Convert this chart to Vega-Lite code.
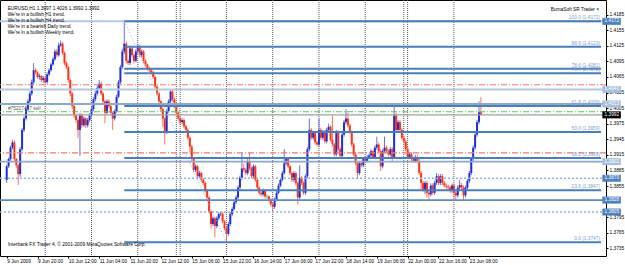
{
"$schema":"https://vega.github.io/schema/vega-lite/v6.json",
"width":606,"height":256,
"autosize":{"type":"none"},
"padding":{"left":0,"top":0,"right":19,"bottom":9},
"background":"#ffffff",
"config":{"view":{"stroke":"#000000","strokeWidth":1},"axis":{"labelFont":"Liberation Sans","labelFontSize":4.8,"labelColor":"#000000","tickColor":"#000000","tickSize":2,"grid":false,"domain":false,"title":null,"labelOverlap":false,"labelBound":false},"text":{"font":"Liberation Sans"}},
"datasets":{
"seps":[{"i":20},{"i":44},{"i":68},{"i":88},{"i":90},{"i":114},{"i":138},{"i":162},{"i":186},{"i":206},{"i":208},{"i":232}],
"levels":[{"p":1.4172,"kind":"lt"},{"p":1.4050,"kind":"stop"},{"p":1.4041,"kind":"lt"},{"p":1.4013,"kind":"md"},{"p":1.3998,"kind":"order"},{"p":1.3992,"kind":"bid"},{"p":1.3919,"kind":"stop"},{"p":1.3902,"kind":"md"},{"p":1.3870,"kind":"dot"},{"p":1.3828,"kind":"dk"},{"p":1.3805,"kind":"dot"}],
"fib":[{"p":1.4172,"label":"100.0 (1.4172)"},{"p":1.4123,"label":"88.6 (1.4123)"},{"p":1.4081,"label":"78.6 (1.4081)"},{"p":1.4072,"label":"76.4 (1.4072)"},{"p":1.4009,"label":"61.8 (1.4009)"},{"p":1.3959,"label":"50.0 (1.3959)"},{"p":1.3909,"label":"38.2 (1.3909)"},{"p":1.3847,"label":"23.6 (1.3847)"},{"p":1.3747,"label":"0.0 (1.3747)"}],
"boxes":[{"p":1.4172,"kind":"bhl"},{"p":1.4041,"kind":"blt"},{"p":1.4013,"kind":"blt"},{"p":1.3992,"kind":"bbid"},{"p":1.3902,"kind":"blt"},{"p":1.3870,"kind":"bhl"},{"p":1.3828,"kind":"bhl"},{"p":1.3805,"kind":"bhl"}],
"candles":[
{"i":0,"o":1.3867,"h":1.3896,"l":1.3861,"c":1.3893},
{"i":1,"o":1.3893,"h":1.3910,"l":1.3890,"c":1.3907},
{"i":2,"o":1.3907,"h":1.3933,"l":1.3904,"c":1.3929},
{"i":3,"o":1.3929,"h":1.3944,"l":1.3926,"c":1.3939},
{"i":4,"o":1.3939,"h":1.3943,"l":1.3903,"c":1.3907},
{"i":5,"o":1.3907,"h":1.3909,"l":1.3890,"c":1.3895},
{"i":6,"o":1.3895,"h":1.3898,"l":1.3857,"c":1.3878},
{"i":7,"o":1.3878,"h":1.3930,"l":1.3873,"c":1.3926},
{"i":8,"o":1.3926,"h":1.3967,"l":1.3922,"c":1.3963},
{"i":9,"o":1.3963,"h":1.3989,"l":1.3959,"c":1.3985},
{"i":10,"o":1.3985,"h":1.4008,"l":1.3981,"c":1.4003},
{"i":11,"o":1.4003,"h":1.4022,"l":1.3999,"c":1.4018},
{"i":12,"o":1.4018,"h":1.4037,"l":1.4014,"c":1.4033},
{"i":13,"o":1.4033,"h":1.4060,"l":1.4029,"c":1.4055},
{"i":14,"o":1.4055,"h":1.4092,"l":1.4051,"c":1.4078},
{"i":15,"o":1.4078,"h":1.4082,"l":1.4070,"c":1.4074},
{"i":16,"o":1.4074,"h":1.4076,"l":1.4061,"c":1.4065},
{"i":17,"o":1.4065,"h":1.4071,"l":1.4060,"c":1.4067},
{"i":18,"o":1.4067,"h":1.4069,"l":1.4055,"c":1.4059},
{"i":19,"o":1.4059,"h":1.4067,"l":1.4054,"c":1.4063},
{"i":20,"o":1.4063,"h":1.4065,"l":1.4050,"c":1.4055},
{"i":21,"o":1.4055,"h":1.4074,"l":1.4052,"c":1.4070},
{"i":22,"o":1.4070,"h":1.4082,"l":1.4067,"c":1.4078},
{"i":23,"o":1.4078,"h":1.4092,"l":1.4075,"c":1.4089},
{"i":24,"o":1.4089,"h":1.4103,"l":1.4086,"c":1.4099},
{"i":25,"o":1.4099,"h":1.4118,"l":1.4096,"c":1.4114},
{"i":26,"o":1.4114,"h":1.4119,"l":1.4103,"c":1.4107},
{"i":27,"o":1.4107,"h":1.4131,"l":1.4104,"c":1.4126},
{"i":28,"o":1.4126,"h":1.4135,"l":1.4123,"c":1.4129},
{"i":29,"o":1.4129,"h":1.4132,"l":1.4107,"c":1.4111},
{"i":30,"o":1.4111,"h":1.4114,"l":1.4088,"c":1.4092},
{"i":31,"o":1.4092,"h":1.4095,"l":1.4080,"c":1.4084},
{"i":32,"o":1.4084,"h":1.4087,"l":1.4054,"c":1.4059},
{"i":33,"o":1.4059,"h":1.4062,"l":1.4028,"c":1.4033},
{"i":34,"o":1.4033,"h":1.4036,"l":1.4003,"c":1.4009},
{"i":35,"o":1.4009,"h":1.4012,"l":1.3986,"c":1.3991},
{"i":36,"o":1.3991,"h":1.3994,"l":1.3977,"c":1.3982},
{"i":37,"o":1.3982,"h":1.3985,"l":1.3947,"c":1.3963},
{"i":38,"o":1.3963,"h":1.3995,"l":1.3913,"c":1.3991},
{"i":39,"o":1.3991,"h":1.3995,"l":1.3967,"c":1.3972},
{"i":40,"o":1.3972,"h":1.3989,"l":1.3969,"c":1.3985},
{"i":41,"o":1.3985,"h":1.3988,"l":1.3967,"c":1.3972},
{"i":42,"o":1.3972,"h":1.3986,"l":1.3968,"c":1.3982},
{"i":43,"o":1.3982,"h":1.3995,"l":1.3978,"c":1.3991},
{"i":44,"o":1.3991,"h":1.4007,"l":1.3987,"c":1.4003},
{"i":45,"o":1.4003,"h":1.4026,"l":1.3999,"c":1.4022},
{"i":46,"o":1.4022,"h":1.4038,"l":1.4018,"c":1.4033},
{"i":47,"o":1.4033,"h":1.4049,"l":1.4029,"c":1.4044},
{"i":48,"o":1.4044,"h":1.4059,"l":1.4040,"c":1.4052},
{"i":49,"o":1.4052,"h":1.4056,"l":1.4029,"c":1.4033},
{"i":50,"o":1.4033,"h":1.4036,"l":1.4014,"c":1.4018},
{"i":51,"o":1.4018,"h":1.4021,"l":1.3976,"c":1.3996},
{"i":52,"o":1.3996,"h":1.4022,"l":1.3993,"c":1.4018},
{"i":53,"o":1.4018,"h":1.4022,"l":1.4005,"c":1.4009},
{"i":54,"o":1.4009,"h":1.4012,"l":1.3993,"c":1.3996},
{"i":55,"o":1.3996,"h":1.3999,"l":1.3963,"c":1.3985},
{"i":56,"o":1.3985,"h":1.4003,"l":1.3981,"c":1.3999},
{"i":57,"o":1.3999,"h":1.4031,"l":1.3996,"c":1.4027},
{"i":58,"o":1.4027,"h":1.4059,"l":1.4024,"c":1.4055},
{"i":59,"o":1.4055,"h":1.4088,"l":1.4051,"c":1.4084},
{"i":60,"o":1.4084,"h":1.4119,"l":1.4080,"c":1.4114},
{"i":61,"o":1.4114,"h":1.4172,"l":1.4109,"c":1.4129},
{"i":62,"o":1.4129,"h":1.4133,"l":1.4091,"c":1.4096},
{"i":63,"o":1.4096,"h":1.4100,"l":1.4088,"c":1.4092},
{"i":64,"o":1.4092,"h":1.4124,"l":1.4088,"c":1.4120},
{"i":65,"o":1.4120,"h":1.4123,"l":1.4103,"c":1.4107},
{"i":66,"o":1.4107,"h":1.4110,"l":1.4091,"c":1.4096},
{"i":67,"o":1.4096,"h":1.4118,"l":1.4093,"c":1.4114},
{"i":68,"o":1.4114,"h":1.4128,"l":1.4110,"c":1.4124},
{"i":69,"o":1.4124,"h":1.4127,"l":1.4103,"c":1.4107},
{"i":70,"o":1.4107,"h":1.4118,"l":1.4102,"c":1.4114},
{"i":71,"o":1.4114,"h":1.4117,"l":1.4091,"c":1.4096},
{"i":72,"o":1.4096,"h":1.4099,"l":1.4085,"c":1.4089},
{"i":73,"o":1.4089,"h":1.4091,"l":1.4078,"c":1.4082},
{"i":74,"o":1.4082,"h":1.4085,"l":1.4074,"c":1.4078},
{"i":75,"o":1.4078,"h":1.4081,"l":1.4070,"c":1.4074},
{"i":76,"o":1.4074,"h":1.4077,"l":1.4061,"c":1.4065},
{"i":77,"o":1.4065,"h":1.4068,"l":1.4042,"c":1.4046},
{"i":78,"o":1.4046,"h":1.4049,"l":1.4029,"c":1.4033},
{"i":79,"o":1.4033,"h":1.4036,"l":1.4014,"c":1.4018},
{"i":80,"o":1.4018,"h":1.4021,"l":1.3999,"c":1.4003},
{"i":81,"o":1.4003,"h":1.4006,"l":1.3969,"c":1.3985},
{"i":82,"o":1.3985,"h":1.3988,"l":1.3935,"c":1.3959},
{"i":83,"o":1.3959,"h":1.4003,"l":1.3955,"c":1.3999},
{"i":84,"o":1.3999,"h":1.4022,"l":1.3996,"c":1.4018},
{"i":85,"o":1.4018,"h":1.4041,"l":1.4014,"c":1.4037},
{"i":86,"o":1.4037,"h":1.4040,"l":1.4018,"c":1.4022},
{"i":87,"o":1.4022,"h":1.4025,"l":1.4005,"c":1.4009},
{"i":88,"o":1.4009,"h":1.4012,"l":1.3993,"c":1.3996},
{"i":89,"o":1.3996,"h":1.3999,"l":1.3981,"c":1.3985},
{"i":90,"o":1.3985,"h":1.3988,"l":1.3974,"c":1.3978},
{"i":91,"o":1.3978,"h":1.3986,"l":1.3974,"c":1.3982},
{"i":92,"o":1.3982,"h":1.3985,"l":1.3966,"c":1.3970},
{"i":93,"o":1.3970,"h":1.3973,"l":1.3959,"c":1.3963},
{"i":94,"o":1.3963,"h":1.3966,"l":1.3944,"c":1.3948},
{"i":95,"o":1.3948,"h":1.3951,"l":1.3920,"c":1.3931},
{"i":96,"o":1.3931,"h":1.3934,"l":1.3903,"c":1.3907},
{"i":97,"o":1.3907,"h":1.3910,"l":1.3882,"c":1.3886},
{"i":98,"o":1.3886,"h":1.3897,"l":1.3882,"c":1.3893},
{"i":99,"o":1.3893,"h":1.3896,"l":1.3870,"c":1.3874},
{"i":100,"o":1.3874,"h":1.3884,"l":1.3870,"c":1.3880},
{"i":101,"o":1.3880,"h":1.3883,"l":1.3863,"c":1.3867},
{"i":102,"o":1.3867,"h":1.3870,"l":1.3857,"c":1.3861},
{"i":103,"o":1.3861,"h":1.3864,"l":1.3842,"c":1.3846},
{"i":104,"o":1.3846,"h":1.3849,"l":1.3829,"c":1.3833},
{"i":105,"o":1.3833,"h":1.3836,"l":1.3802,"c":1.3806},
{"i":106,"o":1.3806,"h":1.3808,"l":1.3773,"c":1.3782},
{"i":107,"o":1.3782,"h":1.3797,"l":1.3778,"c":1.3793},
{"i":108,"o":1.3793,"h":1.3796,"l":1.3756,"c":1.3778},
{"i":109,"o":1.3778,"h":1.3797,"l":1.3774,"c":1.3793},
{"i":110,"o":1.3793,"h":1.3805,"l":1.3789,"c":1.3801},
{"i":111,"o":1.3801,"h":1.3806,"l":1.3797,"c":1.3802},
{"i":112,"o":1.3802,"h":1.3805,"l":1.3783,"c":1.3787},
{"i":113,"o":1.3787,"h":1.3790,"l":1.3770,"c":1.3774},
{"i":114,"o":1.3774,"h":1.3777,"l":1.3747,"c":1.3763},
{"i":115,"o":1.3763,"h":1.3786,"l":1.3759,"c":1.3782},
{"i":116,"o":1.3782,"h":1.3805,"l":1.3778,"c":1.3801},
{"i":117,"o":1.3801,"h":1.3815,"l":1.3797,"c":1.3811},
{"i":118,"o":1.3811,"h":1.3828,"l":1.3808,"c":1.3824},
{"i":119,"o":1.3824,"h":1.3837,"l":1.3820,"c":1.3833},
{"i":120,"o":1.3833,"h":1.3856,"l":1.3829,"c":1.3852},
{"i":121,"o":1.3852,"h":1.3875,"l":1.3848,"c":1.3871},
{"i":122,"o":1.3871,"h":1.3920,"l":1.3867,"c":1.3889},
{"i":123,"o":1.3889,"h":1.3898,"l":1.3882,"c":1.3886},
{"i":124,"o":1.3886,"h":1.3890,"l":1.3876,"c":1.3880},
{"i":125,"o":1.3880,"h":1.3907,"l":1.3876,"c":1.3903},
{"i":126,"o":1.3903,"h":1.3920,"l":1.3885,"c":1.3889},
{"i":127,"o":1.3889,"h":1.3892,"l":1.3870,"c":1.3874},
{"i":128,"o":1.3874,"h":1.3897,"l":1.3870,"c":1.3893},
{"i":129,"o":1.3893,"h":1.3896,"l":1.3863,"c":1.3867},
{"i":130,"o":1.3867,"h":1.3870,"l":1.3848,"c":1.3852},
{"i":131,"o":1.3852,"h":1.3855,"l":1.3838,"c":1.3842},
{"i":132,"o":1.3842,"h":1.3845,"l":1.3835,"c":1.3839},
{"i":133,"o":1.3839,"h":1.3850,"l":1.3835,"c":1.3846},
{"i":134,"o":1.3846,"h":1.3849,"l":1.3831,"c":1.3835},
{"i":135,"o":1.3835,"h":1.3839,"l":1.3831,"c":1.3835},
{"i":136,"o":1.3835,"h":1.3837,"l":1.3825,"c":1.3829},
{"i":137,"o":1.3829,"h":1.3831,"l":1.3816,"c":1.3820},
{"i":138,"o":1.3820,"h":1.3823,"l":1.3808,"c":1.3815},
{"i":139,"o":1.3815,"h":1.3833,"l":1.3811,"c":1.3829},
{"i":140,"o":1.3829,"h":1.3846,"l":1.3826,"c":1.3842},
{"i":141,"o":1.3842,"h":1.3860,"l":1.3839,"c":1.3856},
{"i":142,"o":1.3856,"h":1.3871,"l":1.3853,"c":1.3867},
{"i":143,"o":1.3867,"h":1.3884,"l":1.3864,"c":1.3880},
{"i":144,"o":1.3880,"h":1.3926,"l":1.3877,"c":1.3899},
{"i":145,"o":1.3899,"h":1.3911,"l":1.3895,"c":1.3907},
{"i":146,"o":1.3907,"h":1.3910,"l":1.3889,"c":1.3893},
{"i":147,"o":1.3893,"h":1.3896,"l":1.3876,"c":1.3880},
{"i":148,"o":1.3880,"h":1.3883,"l":1.3863,"c":1.3867},
{"i":149,"o":1.3867,"h":1.3884,"l":1.3863,"c":1.3880},
{"i":150,"o":1.3880,"h":1.3883,"l":1.3857,"c":1.3861},
{"i":151,"o":1.3861,"h":1.3864,"l":1.3820,"c":1.3833},
{"i":152,"o":1.3833,"h":1.3895,"l":1.3829,"c":1.3871},
{"i":153,"o":1.3871,"h":1.3874,"l":1.3857,"c":1.3861},
{"i":154,"o":1.3861,"h":1.3864,"l":1.3838,"c":1.3842},
{"i":155,"o":1.3842,"h":1.3878,"l":1.3838,"c":1.3874},
{"i":156,"o":1.3874,"h":1.3930,"l":1.3870,"c":1.3926},
{"i":157,"o":1.3926,"h":1.3985,"l":1.3922,"c":1.3963},
{"i":158,"o":1.3963,"h":1.3967,"l":1.3944,"c":1.3948},
{"i":159,"o":1.3948,"h":1.3961,"l":1.3944,"c":1.3957},
{"i":160,"o":1.3957,"h":1.3960,"l":1.3935,"c":1.3939},
{"i":161,"o":1.3939,"h":1.3942,"l":1.3931,"c":1.3935},
{"i":162,"o":1.3935,"h":1.3985,"l":1.3931,"c":1.3963},
{"i":163,"o":1.3963,"h":1.3967,"l":1.3944,"c":1.3948},
{"i":164,"o":1.3948,"h":1.3963,"l":1.3944,"c":1.3959},
{"i":165,"o":1.3959,"h":1.3963,"l":1.3937,"c":1.3941},
{"i":166,"o":1.3941,"h":1.3967,"l":1.3937,"c":1.3963},
{"i":167,"o":1.3963,"h":1.3975,"l":1.3959,"c":1.3969},
{"i":168,"o":1.3969,"h":1.3972,"l":1.3940,"c":1.3944},
{"i":169,"o":1.3944,"h":1.3991,"l":1.3931,"c":1.3935},
{"i":170,"o":1.3935,"h":1.3938,"l":1.3912,"c":1.3916},
{"i":171,"o":1.3916,"h":1.3963,"l":1.3912,"c":1.3959},
{"i":172,"o":1.3959,"h":1.3962,"l":1.3922,"c":1.3926},
{"i":173,"o":1.3926,"h":1.3929,"l":1.3907,"c":1.3913},
{"i":174,"o":1.3913,"h":1.3958,"l":1.3909,"c":1.3954},
{"i":175,"o":1.3954,"h":1.3982,"l":1.3950,"c":1.3978},
{"i":176,"o":1.3978,"h":1.4003,"l":1.3974,"c":1.3985},
{"i":177,"o":1.3985,"h":1.3996,"l":1.3968,"c":1.3972},
{"i":178,"o":1.3972,"h":1.3975,"l":1.3955,"c":1.3959},
{"i":179,"o":1.3959,"h":1.3962,"l":1.3931,"c":1.3935},
{"i":180,"o":1.3935,"h":1.3938,"l":1.3912,"c":1.3916},
{"i":181,"o":1.3916,"h":1.3919,"l":1.3895,"c":1.3899},
{"i":182,"o":1.3899,"h":1.3902,"l":1.3871,"c":1.3880},
{"i":183,"o":1.3880,"h":1.3902,"l":1.3876,"c":1.3899},
{"i":184,"o":1.3899,"h":1.3902,"l":1.3891,"c":1.3895},
{"i":185,"o":1.3895,"h":1.3911,"l":1.3891,"c":1.3907},
{"i":186,"o":1.3907,"h":1.3911,"l":1.3900,"c":1.3903},
{"i":187,"o":1.3903,"h":1.3915,"l":1.3900,"c":1.3911},
{"i":188,"o":1.3911,"h":1.3918,"l":1.3907,"c":1.3914},
{"i":189,"o":1.3914,"h":1.3926,"l":1.3910,"c":1.3922},
{"i":190,"o":1.3922,"h":1.3925,"l":1.3907,"c":1.3911},
{"i":191,"o":1.3911,"h":1.3933,"l":1.3907,"c":1.3929},
{"i":192,"o":1.3929,"h":1.3950,"l":1.3925,"c":1.3935},
{"i":193,"o":1.3935,"h":1.3939,"l":1.3918,"c":1.3922},
{"i":194,"o":1.3922,"h":1.3926,"l":1.3884,"c":1.3893},
{"i":195,"o":1.3893,"h":1.3926,"l":1.3889,"c":1.3922},
{"i":196,"o":1.3922,"h":1.3950,"l":1.3918,"c":1.3929},
{"i":197,"o":1.3929,"h":1.3933,"l":1.3918,"c":1.3922},
{"i":198,"o":1.3922,"h":1.3926,"l":1.3912,"c":1.3916},
{"i":199,"o":1.3916,"h":1.3930,"l":1.3912,"c":1.3926},
{"i":200,"o":1.3926,"h":1.3930,"l":1.3902,"c":1.3911},
{"i":201,"o":1.3911,"h":1.4012,"l":1.3907,"c":1.3991},
{"i":202,"o":1.3991,"h":1.3996,"l":1.3959,"c":1.3963},
{"i":203,"o":1.3963,"h":1.3982,"l":1.3959,"c":1.3978},
{"i":204,"o":1.3978,"h":1.3982,"l":1.3959,"c":1.3963},
{"i":205,"o":1.3963,"h":1.3967,"l":1.3944,"c":1.3948},
{"i":206,"o":1.3948,"h":1.3952,"l":1.3937,"c":1.3941},
{"i":207,"o":1.3941,"h":1.3945,"l":1.3922,"c":1.3926},
{"i":208,"o":1.3926,"h":1.3930,"l":1.3907,"c":1.3911},
{"i":209,"o":1.3911,"h":1.3920,"l":1.3907,"c":1.3916},
{"i":210,"o":1.3916,"h":1.3920,"l":1.3903,"c":1.3907},
{"i":211,"o":1.3907,"h":1.3911,"l":1.3900,"c":1.3903},
{"i":212,"o":1.3903,"h":1.3915,"l":1.3900,"c":1.3911},
{"i":213,"o":1.3911,"h":1.3915,"l":1.3900,"c":1.3903},
{"i":214,"o":1.3903,"h":1.3907,"l":1.3876,"c":1.3880},
{"i":215,"o":1.3880,"h":1.3884,"l":1.3846,"c":1.3861},
{"i":216,"o":1.3861,"h":1.3865,"l":1.3844,"c":1.3848},
{"i":217,"o":1.3848,"h":1.3865,"l":1.3839,"c":1.3861},
{"i":218,"o":1.3861,"h":1.3865,"l":1.3833,"c":1.3842},
{"i":219,"o":1.3842,"h":1.3846,"l":1.3828,"c":1.3839},
{"i":220,"o":1.3839,"h":1.3860,"l":1.3835,"c":1.3856},
{"i":221,"o":1.3856,"h":1.3860,"l":1.3838,"c":1.3842},
{"i":222,"o":1.3842,"h":1.3865,"l":1.3838,"c":1.3861},
{"i":223,"o":1.3861,"h":1.3880,"l":1.3857,"c":1.3874},
{"i":224,"o":1.3874,"h":1.3878,"l":1.3857,"c":1.3861},
{"i":225,"o":1.3861,"h":1.3878,"l":1.3857,"c":1.3874},
{"i":226,"o":1.3874,"h":1.3878,"l":1.3857,"c":1.3861},
{"i":227,"o":1.3861,"h":1.3865,"l":1.3852,"c":1.3856},
{"i":228,"o":1.3856,"h":1.3860,"l":1.3848,"c":1.3854},
{"i":229,"o":1.3854,"h":1.3858,"l":1.3846,"c":1.3852},
{"i":230,"o":1.3852,"h":1.3856,"l":1.3842,"c":1.3846},
{"i":231,"o":1.3846,"h":1.3860,"l":1.3842,"c":1.3856},
{"i":232,"o":1.3856,"h":1.3860,"l":1.3833,"c":1.3842},
{"i":233,"o":1.3842,"h":1.3846,"l":1.3829,"c":1.3837},
{"i":234,"o":1.3837,"h":1.3856,"l":1.3833,"c":1.3852},
{"i":235,"o":1.3852,"h":1.3867,"l":1.3848,"c":1.3857},
{"i":236,"o":1.3857,"h":1.3861,"l":1.3848,"c":1.3852},
{"i":237,"o":1.3852,"h":1.3856,"l":1.3828,"c":1.3837},
{"i":238,"o":1.3837,"h":1.3856,"l":1.3833,"c":1.3852},
{"i":239,"o":1.3852,"h":1.3869,"l":1.3848,"c":1.3865},
{"i":240,"o":1.3865,"h":1.3884,"l":1.3861,"c":1.3880},
{"i":241,"o":1.3880,"h":1.3911,"l":1.3876,"c":1.3907},
{"i":242,"o":1.3907,"h":1.3933,"l":1.3903,"c":1.3929},
{"i":243,"o":1.3929,"h":1.3958,"l":1.3925,"c":1.3954},
{"i":244,"o":1.3954,"h":1.3982,"l":1.3950,"c":1.3978},
{"i":245,"o":1.3978,"h":1.4018,"l":1.3974,"c":1.3997},
{"i":246,"o":1.3997,"h":1.4026,"l":1.3992,"c":1.3992}
]},
"layer":[
{"data":{"name":"seps"},"mark":{"type":"rule","strokeDash":[1,1],"color":"#5a5a5a","strokeWidth":1},
 "encoding":{"x":{"field":"i","type":"quantitative","scale":{"domain":[-0.87,308.3],"nice":false,"zero":false},
  "axis":{"values":[0,16,32,48,64,80,96,112,128,144,160,176,192,208,224,240],"tickCount":100,"labelExpr":"['9 Jun 2009','9 Jun 20:00','10 Jun 12:00','11 Jun 04:00','11 Jun 20:00','12 Jun 12:00','15 Jun 06:00','15 Jun 22:00','16 Jun 14:00','17 Jun 06:00','17 Jun 22:00','18 Jun 14:00','19 Jun 06:00','22 Jun 00:00','22 Jun 16:00','23 Jun 08:00'][datum.value/16]","labelAlign":"left","labelBaseline":"top","labelPadding":0,"labelFlush":false,"labelOverlap":false}}}},
{"data":{"name":"candles"},"mark":{"type":"rule","strokeWidth":1},
 "encoding":{"x":{"field":"i","type":"quantitative"},
  "y":{"field":"l","type":"quantitative","scale":{"domain":[1.3730,1.42035],"nice":false,"zero":false},
   "axis":{"orient":"right","values":[1.3735,1.3765,1.3795,1.3855,1.3885,1.3915,1.3945,1.3975,1.4005,1.4035,1.4065,1.4095,1.4125,1.4155,1.4185],"tickCount":100,"format":".4f","labelPadding":1,"labelOverlap":false,"labelBaseline":"middle"}},
  "y2":{"field":"h"},
  "color":{"condition":[{"test":"datum.c > datum.o","value":"#6272f2"},{"test":"datum.c == datum.o","value":"#33bb33"}],"value":"#ff7058"}}},
{"data":{"name":"candles"},"mark":{"type":"bar","width":2},
 "encoding":{"x":{"field":"i","type":"quantitative"},"y":{"field":"o","type":"quantitative"},"y2":{"field":"c"},
  "color":{"condition":[{"test":"datum.c > datum.o","value":"#1e2fd6"},{"test":"datum.c == datum.o","value":"#22aa22"}],"value":"#ff3312"}}},
{"data":{"name":"levels"},"mark":{"type":"rule"},
 "encoding":{"y":{"field":"p","type":"quantitative"},
  "color":{"field":"kind","type":"nominal","scale":{"domain":["lt","md","dk","dot","bid","stop","order","bhl","blt","bbid"],"range":["#b4c8e2","#8fa8c8","#5f88c0","#8db0e0","#a0a0a0","#f27a68","#5cc45c","#4f81bd","#a7bfdc","#000000"]},"legend":null},
  "strokeDash":{"field":"kind","type":"nominal","scale":{"domain":["lt","md","dk","dot","bid","stop","order"],"range":[[1,0],[1,0],[1,0],[2,2],[1,0],[6,2,1,2],[6,2,1,2]]},"legend":null},
  "strokeWidth":{"field":"kind","type":"nominal","scale":{"domain":["lt","md","dk","dot","bid","stop","order"],"range":[2,1,1,1,1,1,1]},"legend":null}}},
{"data":{"name":"fib"},"mark":{"type":"rule","color":"#4a7ebb","strokeWidth":2},
 "encoding":{"x":{"datum":61,"type":"quantitative"},"x2":{"datum":308.3},"y":{"field":"p","type":"quantitative"}}},
{"data":{"values":[{"i1":61,"p1":1.4172,"i2":114,"p2":1.3747}]},"mark":{"type":"rule","color":"#9db5da","strokeDash":[1,2]},
 "encoding":{"x":{"field":"i1","type":"quantitative"},"x2":{"field":"i2"},"y":{"field":"p1","type":"quantitative"},"y2":{"field":"p2"}}},
{"data":{"name":"fib"},"mark":{"type":"text","align":"right","baseline":"bottom","dy":-1,"fontSize":4.8,"color":"#7c9dc8"},
 "encoding":{"x":{"datum":307.8,"type":"quantitative"},"y":{"field":"p","type":"quantitative"},"text":{"field":"label"}}},
{"data":{"name":"boxes"},"mark":{"type":"bar","height":7},
 "encoding":{"x":{"datum":309,"type":"quantitative"},"x2":{"datum":318.6},"y":{"field":"p","type":"quantitative"},
  "color":{"field":"kind","type":"nominal","legend":null}}},
{"data":{"name":"boxes"},"mark":{"type":"text","align":"center","baseline":"middle","fontSize":4.8,"color":"#ffffff"},
 "encoding":{"x":{"datum":313.9,"type":"quantitative"},"y":{"field":"p","type":"quantitative"},"text":{"field":"p","format":".4f"}}},
{"data":{"values":[{"t":["EURUSD,H1  1.3997 1.4026 1.3992 1.3992","We're in a bullish H1 trend.","We're in a bullish H4 trend.","We're in a bearish Daily trend.","We're in a bullish Weekly trend."]}]},
 "mark":{"type":"text","align":"left","baseline":"top","fontSize":4.8,"lineHeight":5.9,"color":"#000000"},
 "encoding":{"x":{"datum":0.5,"type":"quantitative"},"y":{"datum":1.42016,"type":"quantitative"},"text":{"field":"t"}}},
{"data":{"values":[{"t":"BumaSoft SR Trader  ×"}]},
 "mark":{"type":"text","align":"right","baseline":"middle","fontSize":4.8,"color":"#000000"},
 "encoding":{"x":{"datum":307.3,"type":"quantitative"},"y":{"datum":1.4193,"type":"quantitative"},"text":{"field":"t"}}},
{"data":{"values":[{"t":"#75227497 sell"}]},
 "mark":{"type":"text","align":"left","baseline":"bottom","dy":-0.5,"fontSize":4.8,"color":"#555555"},
 "encoding":{"x":{"datum":0.66,"type":"quantitative"},"y":{"datum":1.3998,"type":"quantitative"},"text":{"field":"t"}}},
{"data":{"values":[{"t":"Interbank FX Trader 4, © 2001-2009 MetaQuotes Software Corp."}]},
 "mark":{"type":"text","align":"left","baseline":"middle","fontSize":4.8,"color":"#000000"},
 "encoding":{"x":{"datum":0.66,"type":"quantitative"},"y":{"datum":1.37411,"type":"quantitative"},"text":{"field":"t"}}}
]
}
